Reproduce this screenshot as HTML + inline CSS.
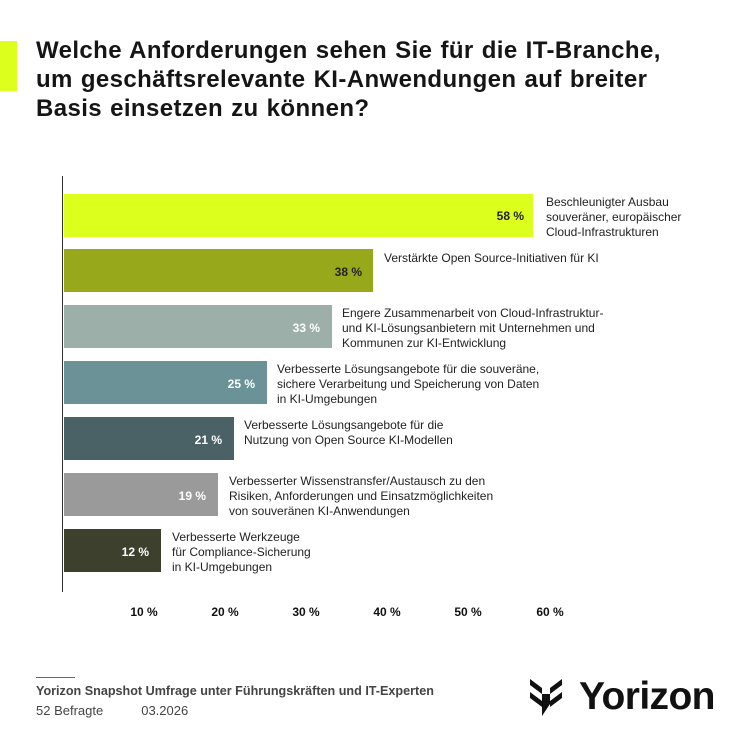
<!DOCTYPE html>
<html><head><meta charset="utf-8"><style>
body{margin:0;width:750px;height:750px;background:#fff;font-family:"Liberation Sans",sans-serif;position:relative;overflow:hidden;color:#111}
.a{position:absolute}
.t{left:36px;top:36px;font-size:24px;font-weight:bold;line-height:29px;color:#151515;letter-spacing:0.4px;word-spacing:1px}
.bar{position:absolute;left:64px;height:43px}
.v{position:absolute;font-size:12px;font-weight:bold;text-align:right}
.l{position:absolute;font-size:12px;line-height:15px;color:#222}
.tk{position:absolute;top:605px;font-size:12px;font-weight:bold;width:40px;text-align:center}
</style></head><body>
<div class="a" style="left:0;top:41px;width:17px;height:50px;background:#dcff1e"></div>
<div class="a t">Welche Anforderungen sehen Sie für die IT-Branche,<br>um geschäftsrelevante KI-Anwendungen auf breiter<br>Basis einsetzen zu können?</div>
<div class="a" style="left:62px;top:176px;width:1px;height:416px;background:#333"></div>

<div class="bar" style="top:194px;width:469px;background:#dcff1e"></div>
<div class="v" style="left:64px;width:460px;top:209px;color:#222">58 %</div>
<div class="l" style="left:546px;top:195px">Beschleunigter Ausbau<br>souveräner, europäischer<br>Cloud-Infrastrukturen</div>

<div class="bar" style="top:249px;width:309px;background:#97a91a"></div>
<div class="v" style="left:64px;width:298px;top:265px;color:#222">38 %</div>
<div class="l" style="left:384px;top:251px">Verstärkte Open Source-Initiativen für KI</div>

<div class="bar" style="top:305px;width:268px;background:#9cafa9"></div>
<div class="v" style="left:64px;width:256px;top:321px;color:#fff">33 %</div>
<div class="l" style="left:342px;top:306px">Engere Zusammenarbeit von Cloud-Infrastruktur-<br>und KI-Lösungsanbietern mit Unternehmen und<br>Kommunen zur KI-Entwicklung</div>

<div class="bar" style="top:361px;width:203px;background:#6a9297"></div>
<div class="v" style="left:64px;width:191px;top:377px;color:#fff">25 %</div>
<div class="l" style="left:277px;top:362px">Verbesserte Lösungsangebote für die souveräne,<br>sichere Verarbeitung und Speicherung von Daten<br>in KI-Umgebungen</div>

<div class="bar" style="top:417px;width:170px;background:#4a6266"></div>
<div class="v" style="left:64px;width:158px;top:433px;color:#fff">21 %</div>
<div class="l" style="left:244px;top:418px">Verbesserte Lösungsangebote für die<br>Nutzung von Open Source KI-Modellen</div>

<div class="bar" style="top:473px;width:154px;background:#9a9a9a"></div>
<div class="v" style="left:64px;width:142px;top:489px;color:#fff">19 %</div>
<div class="l" style="left:229px;top:474px">Verbesserter Wissenstransfer/Austausch zu den<br>Risiken, Anforderungen und Einsatzmöglichkeiten<br>von souveränen KI-Anwendungen</div>

<div class="bar" style="top:529px;width:97px;background:#3c402c"></div>
<div class="v" style="left:64px;width:85px;top:545px;color:#fff">12 %</div>
<div class="l" style="left:172px;top:530px">Verbesserte Werkzeuge<br>für Compliance-Sicherung<br>in KI-Umgebungen</div>

<div class="tk" style="left:124px">10 %</div>
<div class="tk" style="left:205px">20 %</div>
<div class="tk" style="left:286px">30 %</div>
<div class="tk" style="left:367px">40 %</div>
<div class="tk" style="left:448px">50 %</div>
<div class="tk" style="left:530px">60 %</div>

<div class="a" style="left:36px;top:677px;width:39px;height:1px;background:#666"></div>
<div class="a" style="left:36px;top:684px;font-size:12.6px;font-weight:bold;color:#444">Yorizon Snapshot Umfrage unter Führungskräften und IT-Experten</div>
<div class="a" style="left:36px;top:703px;font-size:13px;color:#444">52 Befragte<span style="margin-left:38px">03.2026</span></div>

<svg class="a" style="left:528px;top:676px" width="36" height="42" viewBox="0 0 36 42">
<path d="M2 3 L14 12 L14 18 L2 9Z M34 3 L22 12 L22 18 L34 9Z M2 16 L14 25 L14 31 L2 22Z M34 16 L22 25 L22 31 L34 22Z M14 18 L22 18 L22 28 L14 40Z" fill="#111"/>
</svg>
<div class="a" style="left:579px;top:675px;font-size:39px;font-weight:bold;color:#111;letter-spacing:-0.6px">Yorizon</div>
</body></html>
